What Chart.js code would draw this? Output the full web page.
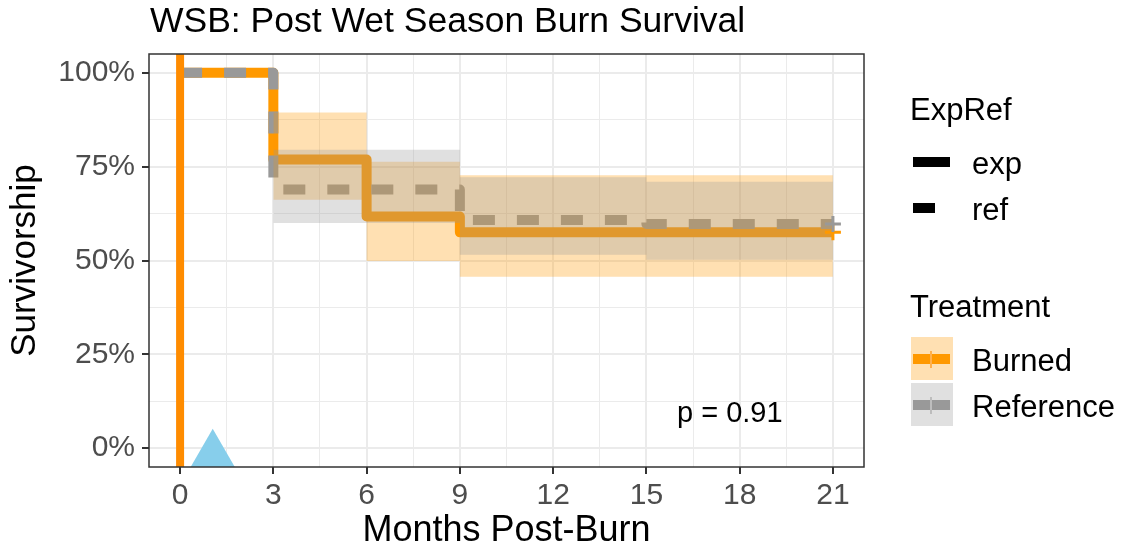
<!DOCTYPE html>
<html>
<head>
<meta charset="utf-8">
<script src="https://cdn.jsdelivr.net/npm/chart.js@4.4.1/dist/chart.umd.min.js"></script>
<style>
html,body{margin:0;padding:0;background:#fff;}
#wrap{position:relative;width:1128px;height:552px;overflow:hidden;font-family:"Liberation Sans",Arial,sans-serif;background:#fff;}
#c{position:absolute;left:0;top:0;}
.t{position:absolute;white-space:nowrap;line-height:1;color:#000;}
.k{position:absolute;}
</style>
</head>
<body>
<div id="wrap">
<canvas id="c" width="1128" height="552"></canvas>
<div class="t" style="left:150px;top:3px;font-size:35.5px;">WSB: Post Wet Season Burn Survival</div>
<div class="t" style="left:677px;top:398px;font-size:29px;">p = 0.91</div>

<div class="t" style="left:910px;top:94px;font-size:31px;">ExpRef</div>
<div class="k" style="left:913px;top:157px;width:37px;height:10px;background:#000;"></div>
<div class="t" style="left:972px;top:148px;font-size:31px;">exp</div>
<div class="k" style="left:913px;top:203px;width:22px;height:10px;background:#000;"></div>
<div class="t" style="left:972px;top:194px;font-size:31px;">ref</div>

<div class="t" style="left:910px;top:291px;font-size:31px;">Treatment</div>
<div class="k" style="left:911px;top:337px;width:42px;height:43px;background:#FFE0B2;"></div>
<div class="k" style="left:913px;top:354px;width:37px;height:10px;background:#FF9900;"></div>
<div class="k" style="left:930px;top:351px;width:2px;height:17px;background:#FFB04D;"></div>
<div class="t" style="left:972px;top:345px;font-size:31px;">Burned</div>
<div class="k" style="left:911px;top:383px;width:42px;height:43px;background:#E0E0E0;"></div>
<div class="k" style="left:913px;top:400px;width:37px;height:10px;background:#999999;"></div>
<div class="k" style="left:930px;top:397px;width:2px;height:17px;background:#BDBDBD;"></div>
<div class="t" style="left:972px;top:391px;font-size:31px;">Reference</div>
</div>
<script>
// ---- data ----
const xTickValues = [0, 3, 6, 9, 12, 15, 18, 21];
const xTickLabels = ['0', '3', '6', '9', '12', '15', '18', '21'];
const xMinorValues = [1.5, 4.5, 7.5, 10.5, 13.5, 16.5, 19.5];
const yTickValues = [0, 0.25, 0.5, 0.75, 1];
const yTickLabels = ['0%', '25%', '50%', '75%', '100%'];
const yMinorValues = [0.125, 0.375, 0.625, 0.875];

const burnedTimes = [0, 3, 6, 9, 21];
const burnedSurv = [1.0, 0.769, 0.617, 0.575, 0.575];
const refTimes = [0, 3, 9, 15, 21];
const refSurv = [1.0, 0.689, 0.608, 0.597, 0.597];

const burnedBandTimes = [3, 6, 9, 21];
const burnedUpper = [0.894, 0.763, 0.727, 0.727];
const burnedLower = [0.662, 0.499, 0.457, 0.457];
const refBandTimes = [3, 9, 15, 21];
const refUpper = [0.795, 0.722, 0.710, 0.710];
const refLower = [0.600, 0.515, 0.502, 0.502];

const burnedCensorX = [21];
const burnedCensorY = [0.575];
const refCensorX = [21];
const refCensorY = [0.597];

const vlineX = [0];
const markerX = [1.05];
const markerY = [-0.02];

const xMin = -1.0, xMax = 22.0, yMin = -0.05, yMax = 1.05;

// ---- helpers ----
const pts = (xs, ys) => xs.map((x, i) => ({x: x, y: ys[i]}));
const FONT = '"Liberation Sans", Arial, sans-serif';
const isMajorX = v => xTickValues.indexOf(v) >= 0;
const isMajorY = v => yTickValues.indexOf(v) >= 0;

const panelBorder = {
  id: 'panelBorder',
  afterDatasetsDraw(chart) {
    const a = chart.chartArea, ctx = chart.ctx;
    ctx.save();
    ctx.strokeStyle = '#333333';
    ctx.lineWidth = 1.5;
    ctx.strokeRect(a.left, a.top, a.right - a.left, a.bottom - a.top);
    ctx.restore();
  }
};

const datasets = [
  { label: 'marker', data: pts(markerX, markerY), showLine: false,
    pointStyle: 'triangle', pointRadius: 27, pointBackgroundColor: '#87CEEB',
    pointBorderWidth: 0, pointBorderColor: 'rgba(0,0,0,0)', clip: 0 },
  { label: 'vline', data: vlineX.flatMap(x => [{x: x, y: yMin}, {x: x, y: yMax}]), showLine: true,
    borderColor: '#FF8C00', borderWidth: 8, pointRadius: 0, borderCapStyle: 'butt' },
  { label: 'refCensor', data: pts(refCensorX, refCensorY), showLine: false,
    pointStyle: 'cross', pointRadius: 8, pointBorderColor: '#999999', pointBorderWidth: 3 },
  { label: 'burnedCensor', data: pts(burnedCensorX, burnedCensorY), showLine: false,
    pointStyle: 'cross', pointRadius: 8, pointBorderColor: '#FF9900', pointBorderWidth: 3 },
  { label: 'refUpper', data: pts(refBandTimes, refUpper), showLine: true, stepped: true,
    borderColor: 'rgba(0,0,0,0)', borderWidth: 1, pointRadius: 0, fill: false },
  { label: 'refLower', data: pts(refBandTimes, refLower), showLine: true, stepped: true,
    borderColor: 'rgba(0,0,0,0)', borderWidth: 1, pointRadius: 0, fill: '-1',
    backgroundColor: 'rgba(153,153,153,0.3)' },
  { label: 'burnedUpper', data: pts(burnedBandTimes, burnedUpper), showLine: true, stepped: true,
    borderColor: 'rgba(0,0,0,0)', borderWidth: 1, pointRadius: 0, fill: false },
  { label: 'burnedLower', data: pts(burnedBandTimes, burnedLower), showLine: true, stepped: true,
    borderColor: 'rgba(0,0,0,0)', borderWidth: 1, pointRadius: 0, fill: '-1',
    backgroundColor: 'rgba(255,153,0,0.3)' },
  { label: 'Reference', data: pts(refTimes, refSurv), showLine: true, stepped: true,
    borderColor: '#999999', borderWidth: 10, borderDash: [22, 22], borderCapStyle: 'butt',
    borderJoinStyle: 'round', pointRadius: 0, fill: false },
  { label: 'Burned', data: pts(burnedTimes, burnedSurv), showLine: true, stepped: true,
    borderColor: '#FF9900', borderWidth: 10, borderCapStyle: 'butt',
    borderJoinStyle: 'round', pointRadius: 0, fill: false }
];

new Chart(document.getElementById('c'), {
  type: 'scatter',
  data: { datasets: datasets },
  plugins: [panelBorder],
  options: {
    responsive: false,
    animation: false,
    devicePixelRatio: 1,
    layout: { padding: { top: 54, right: 264, left: 0, bottom: 0 } },
    plugins: { legend: { display: false }, tooltip: { enabled: false }, title: { display: false } },
    scales: {
      x: {
        type: 'linear', min: xMin, max: xMax,
        afterBuildTicks: s => { s.ticks = xTickValues.concat(xMinorValues).sort((a, b) => a - b).map(v => ({value: v})); },
        afterFit: s => { s.height = 85; },
        ticks: {
          autoSkip: false, maxRotation: 0, padding: 4, color: '#4D4D4D',
          font: { family: FONT, size: 30 },
          callback: v => { const i = xTickValues.indexOf(v); return i >= 0 ? xTickLabels[i] : ''; }
        },
        grid: {
          color: '#EBEBEB',
          lineWidth: c => (c.tick && isMajorX(c.tick.value)) ? 2 : 1,
          tickColor: c => (c.tick && isMajorX(c.tick.value)) ? '#333333' : 'rgba(0,0,0,0)',
          tickLength: 7, tickWidth: 2
        },
        border: { display: false },
        title: { display: true, text: 'Months Post-Burn', color: '#000',
          font: { family: FONT, size: 36, lineHeight: 1.1 }, padding: { top: 0, bottom: 1 } }
      },
      y: {
        type: 'linear', min: yMin, max: yMax,
        afterBuildTicks: s => { s.ticks = yTickValues.concat(yMinorValues).sort((a, b) => a - b).map(v => ({value: v})); },
        afterFit: s => { s.width = 149; },
        ticks: {
          autoSkip: false, padding: 7, color: '#4D4D4D',
          font: { family: FONT, size: 30 },
          callback: v => { const i = yTickValues.indexOf(v); return i >= 0 ? yTickLabels[i] : ''; }
        },
        grid: {
          color: '#EBEBEB',
          lineWidth: c => (c.tick && isMajorY(c.tick.value)) ? 2 : 1,
          tickColor: c => (c.tick && isMajorY(c.tick.value)) ? '#333333' : 'rgba(0,0,0,0)',
          tickLength: 7, tickWidth: 2
        },
        border: { display: false },
        title: { display: true, text: 'Survivorship', color: '#000',
          font: { family: FONT, size: 35 }, padding: { top: 4, bottom: 0 } }
      }
    }
  }
});
</script>
</body>
</html>
